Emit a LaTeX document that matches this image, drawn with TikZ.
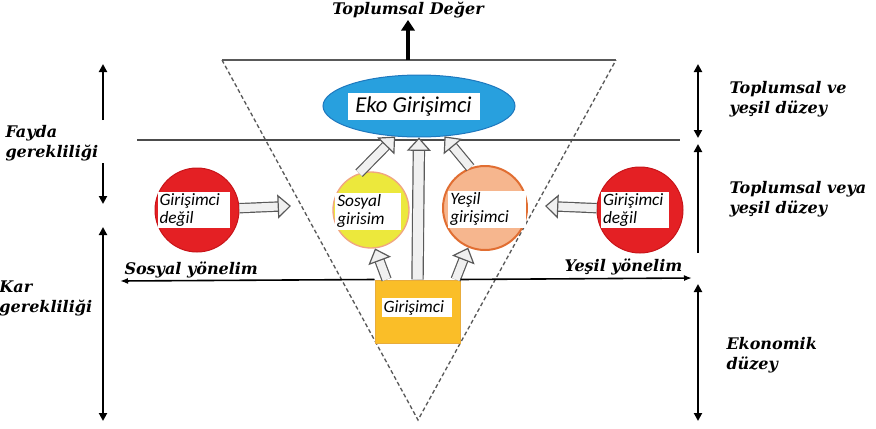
\documentclass[tikz,border=0pt]{standalone}
\usepackage{fontspec}
\setmainfont{DejaVu Serif}
\newfontfamily\lblfont{Carlito}[ItalicFont={Carlito Italic}, BoldItalicFont={Carlito Bold Italic}]
\usetikzlibrary{arrows.meta,shapes.geometric}

\tikzset{every picture/.style={line width=0.75pt}}
\tikzset{
  levtext/.style={font=\fontsize{12}{15}\selectfont\bfseries\itshape, align=left, inner sep=0.75pt},
  lbl/.style={fill=white, font=\lblfont\fontsize{13}{13.5}\selectfont\itshape, align=left, inner sep=1.5pt},
  blockarr/.style={draw=gray!70!black, double=gray!12, double distance=6pt, line width=0.9pt, -{Triangle[length=10pt, width=18pt, fill=gray!12]}},
  dimarr/.style={line width=2, {Triangle[length=6pt,width=6pt]}-{Triangle[length=6pt,width=6pt]}},
  uparr/.style={line width=2, -{Triangle[length=6pt,width=6pt]}},
}

\begin{document}
\begin{tikzpicture}[x=0.75pt,y=0.75pt,yscale=-1,xscale=1]
\useasboundingbox (0,0) rectangle (876,429);

% triangle and level line
\draw [gray!70!black, line width=1.2] (222,60) -- (616,60) ;
\draw [gray!70!black, line width=1, densely dashed] (222,60) -- (418,420) -- (616,60) ;
\draw [gray!60!black, line width=1.5] (137,140) -- (680,140) ;

% entrepreneurs
\node [ellipse, draw={rgb, 255:red, 30; green, 120; blue, 190}, fill={rgb, 255:red, 40; green, 160; blue, 222}, minimum width=144pt, minimum height=46.5pt] (eko) at (419,106) {};
\node [circle, draw={rgb, 255:red, 240; green, 165; blue, 130}, line width=1, fill={rgb, 255:red, 236; green, 232; blue, 60}, minimum size=57pt] (sosyal) at (371,210) {};
\node [circle, draw={rgb, 255:red, 225; green, 110; blue, 50}, line width=1.5, fill={rgb, 255:red, 246; green, 182; blue, 142}, minimum size=63pt] (yesil) at (485,208) {};
\node [draw={rgb, 255:red, 232; green, 172; blue, 60}, fill={rgb, 255:red, 250; green, 190; blue, 40}, minimum width=63.75pt, minimum height=47.25pt] (giri) at (417.5,311.5) {};
\node [circle, draw={rgb, 255:red, 200; green, 20; blue, 25}, fill={rgb, 255:red, 228; green, 32; blue, 36}, minimum size=63pt] (redl) at (197,210) {};
\node [circle, draw={rgb, 255:red, 200; green, 20; blue, 25}, fill={rgb, 255:red, 228; green, 32; blue, 36}, minimum size=64.5pt] (redr) at (640,210) {};

\node [lbl, font=\lblfont\fontsize{17}{18}\selectfont\itshape, minimum width=99pt, minimum height=20pt] at (413.5,106.5) {Eko Girişimci};
\node [lbl, text width=46pt] at (368,211) {Sosyal\\girisim};
\node [lbl, text width=55pt] at (487,209) {Yeşil\\girişimci};
\node [lbl, text width=50pt] at (417,307.5) {Girişimci};
\node [lbl, text width=51pt] at (193.5,210) {Girişimci\\değil};
\node [lbl, text width=48pt] at (635,210) {Girişimci\\değil};

% block arrows
\coordinate (lend) at (291,206);
\coordinate (rend) at (545,206);
\draw [blockarr] (redl) -- (lend) ;
\draw [blockarr] (redr) -- (rend) ;
\draw [blockarr] (giri.134) -- (sosyal.-84) ;
\draw [blockarr] (giri.40) -- (yesil.-113) ;
\draw [blockarr] (sosyal.108) -- (eko.-128) ;
\draw [blockarr] (yesil.110) -- (eko.-50) ;
\draw [blockarr, double distance=7.5pt] (giri.north) -- (eko.south) ;

% orientations
\coordinate (sy) at (120,281);
\coordinate (yy) at (692,278);
\draw [line width=1.2, -{Latex[length=6pt]}] (giri.north west) -- (sy) ;
\draw [line width=1.2, -{Latex[length=6pt]}] (giri.north east) -- (yy) ;
\draw (123,280) node [levtext, anchor=south west] {Sosyal yönelim};
\draw (563,277) node [levtext, anchor=south west] {Yeşil yönelim};

% social value
\coordinate (tv) at (408,60);
\node [levtext, anchor=north] (td) at (408,1) {Toplumsal Değer};
\draw [line width=3.2, -{Triangle[length=8pt,width=10pt]}] (tv) -- (td) ;

% left levels
\coordinate (fa1) at (103,120);
\coordinate (fa2) at (103,64);
\coordinate (fb1) at (103,163);
\coordinate (fb2) at (103,204);
\coordinate (ka1) at (103,227);
\coordinate (ka2) at (103,421);
\draw [uparr] (fa1) -- (fa2) ;
\draw [uparr] (fb1) -- (fb2) ;
\draw [dimarr] (ka1) -- (ka2) ;
\draw (4,143) node [levtext, anchor=west] {Fayda\\gerekliliği};
\draw (-2,298) node [levtext, anchor=west] {Kar\\gerekliliği};

% right levels
\coordinate (ra1) at (698,64);
\coordinate (ra2) at (698,138);
\coordinate (rb1) at (698,253);
\coordinate (rb2) at (698,144);
\coordinate (rc1) at (698,284);
\coordinate (rc2) at (698,421);
\draw [dimarr] (ra1) -- (ra2) ;
\draw [uparr] (rb1) -- (rb2) ;
\draw [dimarr] (rc1) -- (rc2) ;
\draw (728,99) node [levtext, anchor=west] {Toplumsal ve\\yeşil düzey};
\draw (728,199) node [levtext, anchor=west] {Toplumsal veya\\yeşil düzey};
\draw (725,355) node [levtext, anchor=west] {Ekonomik\\düzey};

\end{tikzpicture}
\end{document}
